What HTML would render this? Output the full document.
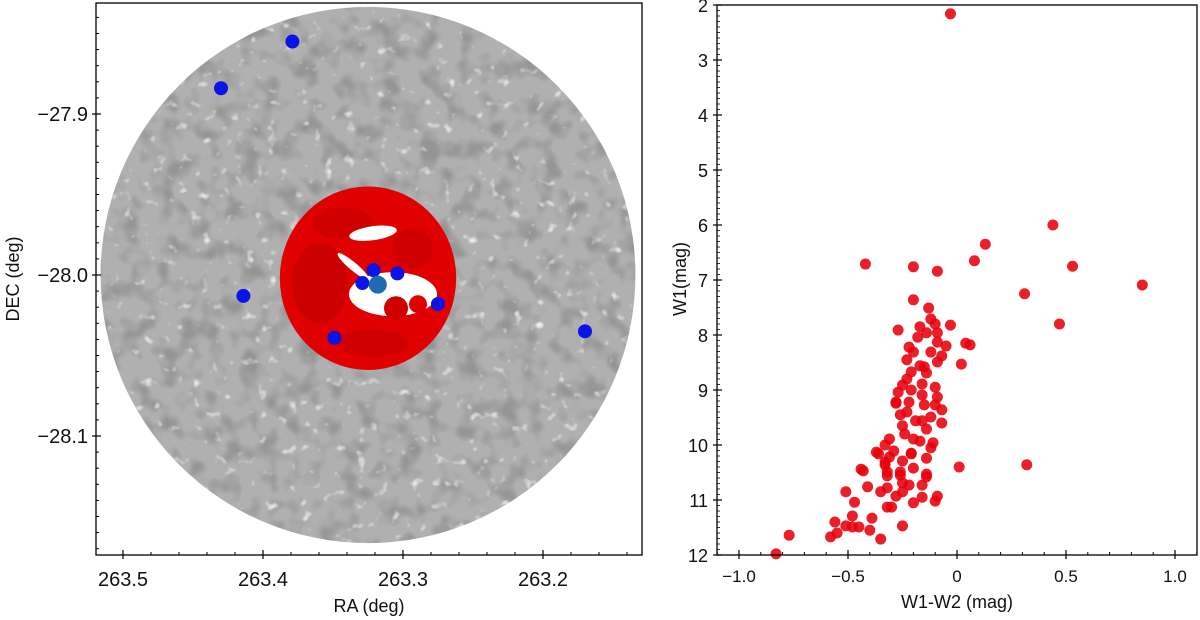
<!DOCTYPE html>
<html><head><meta charset="utf-8"><style>
html,body{margin:0;padding:0;background:#fff;}
svg{display:block;font-family:"Liberation Sans",sans-serif;}
</style></head><body>
<svg id="fig" width="1200" height="620" viewBox="0 0 1200 620">
<defs>
<filter id="dark" x="0" y="0" width="100%" height="100%">
<feTurbulence type="fractalNoise" baseFrequency="0.05" numOctaves="2" seed="3"/>
<feColorMatrix type="matrix" values="0 0 0 0 0.3  0 0 0 0 0.3  0 0 0 0 0.3  3.2 0 0 0 -1.45"/>
</filter>
<filter id="gaps" x="0" y="0" width="100%" height="100%">
<feTurbulence type="fractalNoise" baseFrequency="0.09" numOctaves="2" seed="11"/>
<feColorMatrix type="matrix" values="0 0 0 0 1  0 0 0 0 1  0 0 0 0 1  4 0 0 0 -2.6"/>
</filter>
<clipPath id="fieldClip"><ellipse id="fieldClipE" cx="0" cy="0" rx="1" ry="1"/></clipPath>
</defs>
<g id="left"></g>
<g id="right"></g>
</svg>
<script>
// ---------- Left panel data ----------
const fieldCenter = [263.325, -28.0];
const fieldRadiusDeg = [0.191, 0.1665];
const clusterCenter = [263.325, -28.002];
const clusterRadiusDeg = [0.063, 0.057];
const blueRA  = [263.379, 263.430, 263.414, 263.349, 263.321, 263.304, 263.329, 263.275, 263.170];
const blueDec = [-27.855, -27.884, -28.013, -28.039, -27.997, -27.999, -28.005, -28.018, -28.035];
const targetRA = [263.318];
const targetDec = [-28.006];
const raTicks = [263.5, 263.4, 263.3, 263.2];
const raTickLabels = ["263.5", "263.4", "263.3", "263.2"];
const decTicks = [-27.9, -28.0, -28.1];
const decTickLabels = ["\u221227.9", "\u221228.0", "\u221228.1"];

// ---------- Right panel data ----------
const colour = [-0.03,-0.42,-0.20,-0.09,0.08,0.13,0.44,0.53,0.85,0.31,0.47,-0.20,-0.13,-0.12,-0.10,-0.03,-0.27,-0.17,-0.14,-0.09,
-0.18,-0.09,-0.05,0.04,0.06,-0.22,-0.20,-0.12,-0.07,-0.23,-0.09,0.02,-0.17,-0.15,-0.14,-0.21,-0.23,-0.25,-0.16,-0.10,
-0.27,-0.21,-0.16,-0.09,-0.28,-0.22,-0.15,-0.10,-0.07,-0.26,-0.23,-0.12,-0.19,-0.16,-0.07,-0.25,-0.14,-0.24,-0.31,-0.20,
-0.17,-0.11,-0.33,-0.12,-0.29,-0.36,-0.21,-0.14,-0.31,-0.25,-0.33,-0.20,0.01,0.32,-0.43,-0.26,-0.32,-0.14,-0.37,-0.44,
-0.33,-0.32,-0.26,-0.21,-0.14,-0.41,-0.51,-0.35,-0.32,-0.25,-0.22,-0.16,-0.28,-0.25,-0.16,-0.09,-0.10,-0.47,-0.20,-0.32,
-0.30,-0.48,-0.39,-0.56,-0.51,-0.48,-0.45,-0.40,-0.25,-0.55,-0.58,-0.35,-0.77,-0.83,-0.28];
const w1mag = [2.16,6.71,6.76,6.84,6.65,6.35,6.00,6.75,7.09,7.25,7.80,7.36,7.51,7.71,7.80,7.82,7.91,7.85,7.96,7.96,
8.04,8.13,8.20,8.15,8.18,8.22,8.31,8.31,8.38,8.45,8.49,8.53,8.56,8.58,8.69,8.67,8.80,8.91,8.89,8.95,
9.04,9.00,9.09,9.13,9.24,9.22,9.27,9.27,9.36,9.45,9.40,9.49,9.56,9.56,9.60,9.65,9.71,9.80,9.89,9.89,
9.93,9.96,10.00,10.05,10.11,10.16,10.16,10.24,10.22,10.29,10.36,10.42,10.40,10.36,10.47,10.55,10.56,10.58,10.13,10.44,
10.31,10.49,10.49,10.15,10.53,10.76,10.85,10.85,10.78,10.69,10.73,10.73,10.93,10.85,10.95,10.93,11.02,11.04,11.05,11.13,
11.13,11.29,11.33,11.40,11.47,11.49,11.49,11.55,11.47,11.60,11.67,11.71,11.64,11.98,9.22];
const colTicks = [-1.0, -0.5, 0, 0.5, 1.0];
const colTickLabels = ["\u22121.0", "\u22120.5", "0", "0.5", "1.0"];
const magTicks = [2,3,4,5,6,7,8,9,10,11,12];
const magTickLabels = ["2","3","4","5","6","7","8","9","10","11","12"];

const NS = "http://www.w3.org/2000/svg";
function mk(parent, tag, attrs, text){
  const e = document.createElementNS(NS, tag);
  for (const k in attrs) e.setAttribute(k, attrs[k]);
  if (text !== undefined) e.textContent = text;
  parent.appendChild(e);
  return e;
}

// ---------- Left panel ----------
const L = {x0:96, x1:642, y0:3, y1:555};
function xRA(ra){ return 123 + (263.5 - ra) * 1400; }
function yDec(d){ return 114 + (-27.9 - d) * 1610; }
const left = document.getElementById('left');

const fcx = xRA(fieldCenter[0]), fcy = yDec(fieldCenter[1]);
const frx = fieldRadiusDeg[0]*1400, fry = fieldRadiusDeg[1]*1610;
const field = mk(left, 'ellipse', {cx:fcx, cy:fcy, rx:frx, ry:fry, fill:'#b0b0b0'});


const ce = document.getElementById('fieldClipE');
ce.setAttribute('cx', fcx); ce.setAttribute('cy', fcy); ce.setAttribute('rx', frx); ce.setAttribute('ry', fry);
const mott = mk(left, 'rect', {x:fcx-frx, y:fcy-fry, width:2*frx, height:2*fry, filter:'url(#dark)', 'clip-path':'url(#fieldClip)'});


const gaps = mk(left, 'rect', {x:fcx-frx, y:fcy-fry, width:2*frx, height:2*fry, filter:'url(#gaps)', 'clip-path':'url(#fieldClip)', opacity:0.8});



// cluster members
const ccx = xRA(clusterCenter[0]), ccy = yDec(clusterCenter[1]);
const crx = clusterRadiusDeg[0]*1400, cry = clusterRadiusDeg[1]*1610;
const cl = mk(left, 'g', {});


mk(cl, 'ellipse', {cx:ccx, cy:ccy, rx:crx, ry:cry, fill:'#e00000'});
mk(cl, 'ellipse', {cx:ccx-48, cy:ccy+5, rx:28, ry:40, fill:'#a00000', opacity:0.3});
mk(cl, 'ellipse', {cx:ccx-25, cy:ccy-55, rx:30, ry:16, fill:'#a00000', opacity:0.25});
mk(cl, 'ellipse', {cx:ccx+45, cy:ccy-30, rx:20, ry:20, fill:'#a00000', opacity:0.25});
mk(cl, 'ellipse', {cx:ccx+5, cy:ccy+65, rx:35, ry:14, fill:'#a00000', opacity:0.25});
mk(cl, 'ellipse', {cx:ccx+25, cy:ccy+16, rx:44, ry:22, fill:'#fff'});
mk(cl, 'ellipse', {cx:ccx+5, cy:ccy-45, rx:24, ry:7, fill:'#fff', transform:'rotate(-8 '+(ccx+5)+' '+(ccy-45)+')'});
mk(cl, 'ellipse', {cx:ccx-15, cy:ccy-12, rx:20, ry:4, fill:'#fff', transform:'rotate(40 '+(ccx-15)+' '+(ccy-12)+')'});
mk(cl, 'circle', {cx:ccx+28, cy:ccy+30, r:12, fill:'#d00000'});
mk(cl, 'circle', {cx:ccx+50, cy:ccy+26, r:9, fill:'#e00000'});

for (let i=0;i<blueRA.length;i++){
  const c = mk(left, 'circle', {cx:xRA(blueRA[i]), cy:yDec(blueDec[i]), r:7, fill:'#0a14e6'});
  
  
}
for (let i=0;i<targetRA.length;i++){
  const c = mk(left, 'circle', {cx:xRA(targetRA[i]), cy:yDec(targetDec[i]), r:9, fill:'#1f6bb0'});
  
  
}
const lf = mk(left, 'rect', {x:L.x0, y:L.y0, width:L.x1-L.x0, height:L.y1-L.y0, fill:'none', stroke:'#000', 'stroke-width':1.3});


for (let ra=263.52; ra>263.12; ra-=0.02){
  const x = xRA(ra); if (x<L.x0||x>L.x1) continue;
  mk(left,'line',{x1:x,x2:x,y1:L.y1,y2:L.y1-3,stroke:'#000','stroke-width':1});
}
for (let d=-27.83; d>-28.18; d-=0.01){
  const y = yDec(d); if (y<L.y0||y>L.y1) continue;
  mk(left,'line',{x1:L.x0,x2:L.x0+3,y1:y,y2:y,stroke:'#000','stroke-width':1});
}
for (let i=0;i<raTicks.length;i++){
  const x = xRA(raTicks[i]);
  mk(left,'line',{x1:x,x2:x,y1:L.y1-5,y2:L.y1+4,stroke:'#000','stroke-width':1.2});
  const t = mk(left,'text',{x:x,y:L.y1+31,'text-anchor':'middle','font-size':20,fill:'#111'}, raTickLabels[i]);
  
  
}
for (let i=0;i<decTicks.length;i++){
  const y = yDec(decTicks[i]);
  mk(left,'line',{x1:L.x0-4,x2:L.x0+5,y1:y,y2:y,stroke:'#000','stroke-width':1.2});
  const t = mk(left,'text',{x:L.x0-8,y:y+7,'text-anchor':'end','font-size':20,fill:'#111'}, decTickLabels[i]);
  
  
}
const xl = mk(left,'text',{x:(L.x0+L.x1)/2,y:612,'text-anchor':'middle','font-size':18,fill:'#111'},'RA (deg)');


const yl = mk(left,'text',{x:0,y:0,'text-anchor':'middle','font-size':18,fill:'#111',transform:'translate(19,279) rotate(-90)'},'DEC (deg)');



// ---------- Right panel ----------
const R = {x0:717, x1:1197, y0:5, y1:555};
function xC(c){ return 957 + c*218; }
function yM(m){ return 5 + (m-2)*55; }
const right = document.getElementById('right');
const pts = mk(right,'g',{});


for (let i=0;i<colour.length;i++){
  const c = mk(pts,'circle',{cx:xC(colour[i]),cy:yM(w1mag[i]),r:5.5,fill:'#e8000b','fill-opacity':0.88});
  
  
}
const rf = mk(right,'rect',{x:R.x0,y:R.y0,width:R.x1-R.x0,height:R.y1-R.y0,fill:'none',stroke:'#000','stroke-width':1.3});


for (let c=-1.1; c<=1.1001; c+=0.1){
  const x = xC(c);
  mk(right,'line',{x1:x,x2:x,y1:R.y1,y2:R.y1-3,stroke:'#000','stroke-width':1});
}
for (let m=2; m<=12.001; m+=0.1){
  const y = yM(m);
  mk(right,'line',{x1:R.x0,x2:R.x0+3,y1:y,y2:y,stroke:'#000','stroke-width':0.8});
}
for (let i=0;i<colTicks.length;i++){
  const x = xC(colTicks[i]);
  mk(right,'line',{x1:x,x2:x,y1:R.y1-5,y2:R.y1+4,stroke:'#000','stroke-width':1.2});
  const t = mk(right,'text',{x:x,y:R.y1+27,'text-anchor':'middle','font-size':17,fill:'#111'}, colTickLabels[i]);
  
  
}
for (let i=0;i<magTicks.length;i++){
  const y = yM(magTicks[i]);
  mk(right,'line',{x1:R.x0-4,x2:R.x0+5,y1:y,y2:y,stroke:'#000','stroke-width':1.2});
  const t = mk(right,'text',{x:R.x0-9,y:y+7,'text-anchor':'end','font-size':18,fill:'#111'}, magTickLabels[i]);
  
  
}
const xl2 = mk(right,'text',{x:(R.x0+R.x1)/2,y:608,'text-anchor':'middle','font-size':18,fill:'#111'},'W1-W2 (mag)');


const yl2 = mk(right,'text',{x:0,y:0,'text-anchor':'middle','font-size':18,fill:'#111',transform:'translate(686,279) rotate(-90)'},'W1(mag)');


</script>
</body></html>
